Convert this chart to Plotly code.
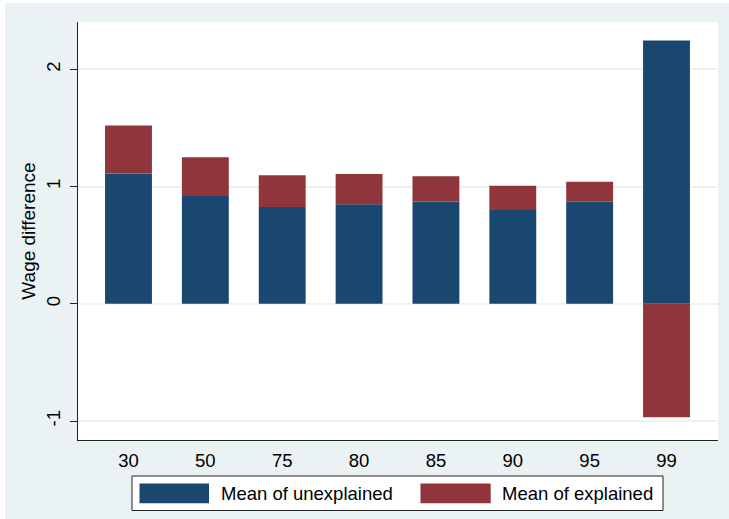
import plotly.graph_objects as go

# ---- data ----
percentiles = ["30", "50", "75", "80", "85", "90", "95", "99"]
mean_unexplained = [1.11, 0.92, 0.825, 0.848, 0.873, 0.80, 0.87, 2.245]
mean_explained = [0.41, 0.33, 0.271, 0.259, 0.214, 0.207, 0.171, -0.967]
series_names = ["Mean of unexplained", "Mean of explained"]
y_ticks = [-1, 0, 1, 2]
y_title = "Wage difference"

# ---- style ----
W, H = 729, 519
L, R, T, B = 78, 718, 22, 440
BLUE = "#1A476F"
RED = "#90353B"
BG = "#EAF2F3"
FONT = "Liberation Sans, Arial, sans-serif"
FS = 18.5


def px(x):
    return (x - L) / (R - L)


def py(y):
    return (B - y) / (B - T)


fig = go.Figure()
fig.add_trace(go.Bar(x=percentiles, y=mean_unexplained, name=series_names[0],
                     marker=dict(color=BLUE, line=dict(width=0)), showlegend=False))
fig.add_trace(go.Bar(x=percentiles, y=mean_explained, name=series_names[1],
                     marker=dict(color=RED, line=dict(width=0)), showlegend=False))

shapes = [
    # outer light background
    dict(type="rect", xref="paper", yref="paper", x0=px(5), x1=px(W + 5), y0=py(3), y1=py(H + 5),
         fillcolor=BG, line=dict(width=0), layer="below"),
    # white plot area
    dict(type="rect", xref="paper", yref="paper", x0=0, x1=1, y0=0, y1=1,
         fillcolor="white", line=dict(width=0), layer="below"),
    # legend box
    dict(type="rect", xref="paper", yref="paper", x0=px(132), x1=px(663), y0=py(476), y1=py(510.5),
         fillcolor="white", line=dict(color="#222222", width=1)),
    dict(type="rect", xref="paper", yref="paper", x0=px(139.5), x1=px(209), y0=py(483.5), y1=py(503.3),
         fillcolor=BLUE, line=dict(width=0)),
    dict(type="rect", xref="paper", yref="paper", x0=px(420.5), x1=px(490.7), y0=py(483.5), y1=py(503.3),
         fillcolor=RED, line=dict(width=0)),
]

annotations = [
    dict(text=series_names[0], xref="paper", yref="paper", x=px(219), y=py(493.5),
         xanchor="left", yanchor="middle", showarrow=False, font=dict(size=FS, color="black", family=FONT)),
    dict(text=series_names[1], xref="paper", yref="paper", x=px(499.5), y=py(493.5),
         xanchor="left", yanchor="middle", showarrow=False, font=dict(size=FS, color="black", family=FONT)),
]

fig.update_layout(
    width=W, height=H,
    margin=dict(l=L, r=W - R, t=T, b=H - B, pad=0),
    paper_bgcolor="white", plot_bgcolor="white",
    barmode="relative", bargap=0.39,
    font=dict(family=FONT, size=FS, color="black"),
    shapes=shapes, annotations=annotations,
    showlegend=False,
)
fig.update_xaxes(
    type="category", range=[-0.657, 7.67],
    showline=True, linecolor="#222222", linewidth=1,
    ticks="", showgrid=False, zeroline=False, ticklabelstandoff=4,
    tickfont=dict(size=FS, color="black"),
)
fig.update_yaxes(
    range=[-1.162, 2.403], tickvals=y_ticks, ticktext=[str(v) for v in y_ticks],
    tickangle=-90, ticks="outside", ticklen=7, tickcolor="#222222", tickwidth=1,
    showline=True, linecolor="#222222", linewidth=1,
    showgrid=True, gridcolor=BG, gridwidth=1.5, zeroline=False, ticklabelstandoff=3,
    tickfont=dict(size=FS, color="black"),
    title=dict(text=y_title, font=dict(size=19, color="black"), standoff=1),
)

fig.write_html("out.html")
